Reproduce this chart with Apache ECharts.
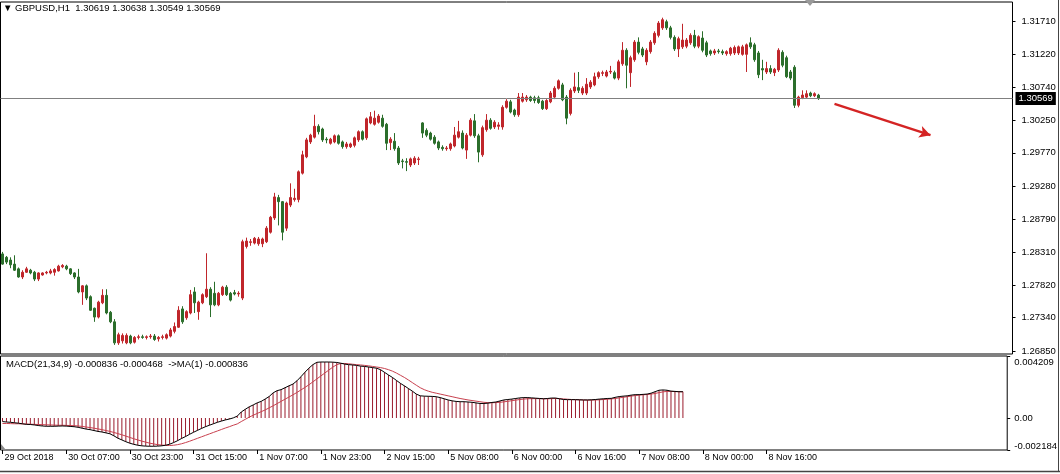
<!DOCTYPE html>
<html><head><meta charset="utf-8">
<script src="https://cdn.jsdelivr.net/npm/echarts@6/dist/echarts.min.js"></script>
<style>html,body{margin:0;padding:0;background:#fff}#c{width:1060px;height:474px}</style>
</head><body><div id="c"></div><script>
const symbolName = 'GBPUSD,H1';
// [open, high, low, close] per H1 bar, first bar 29 Oct 2018 15:00
const candles = [
[1.2828,1.2831,1.2812,1.2813],[1.2823,1.2825,1.2813,1.2816],[1.2819,1.2823,1.2807,1.2812],[1.2813,1.2826,1.2803,1.2804],
[1.2806,1.2808,1.2793,1.2794],[1.2794,1.2804,1.2791,1.2801],[1.2801,1.2809,1.2800,1.2806],[1.2804,1.2806,1.2798,1.2800],
[1.2801,1.2803,1.2788,1.2791],[1.2791,1.2801,1.2788,1.2800],[1.2797,1.2801,1.2796,1.2800],[1.2800,1.2803,1.2798,1.2801],
[1.2800,1.2806,1.2798,1.2803],[1.2801,1.2807,1.2796,1.2805],[1.2803,1.2812,1.2802,1.2810],[1.2809,1.2813,1.2807,1.2811],
[1.2810,1.2812,1.2804,1.2806],[1.2806,1.2807,1.2797,1.2799],[1.2800,1.2801,1.2791,1.2794],[1.2794,1.2806,1.2770,1.2772],
[1.2772,1.2782,1.2753,1.2781],[1.2781,1.2783,1.2760,1.2763],[1.2765,1.2767,1.2744,1.2745],[1.2748,1.2749,1.2728,1.2735],
[1.2735,1.2759,1.2733,1.2757],[1.2756,1.2776,1.2754,1.2767],[1.2767,1.2776,1.2739,1.2741],[1.2742,1.2744,1.2726,1.2728],
[1.2728,1.2732,1.2694,1.2697],[1.2697,1.2712,1.2694,1.2709],[1.2700,1.2711,1.2696,1.2708],[1.2697,1.2711,1.2695,1.2708],
[1.2707,1.2709,1.2695,1.2697],[1.2698,1.2707,1.2696,1.2705],[1.2705,1.2709,1.2702,1.2706],[1.2706,1.2709,1.2703,1.2705],
[1.2705,1.2708,1.2702,1.2706],[1.2706,1.2710,1.2703,1.2707],[1.2707,1.2710,1.2700,1.2702],[1.2703,1.2707,1.2699,1.2705],
[1.2705,1.2709,1.2702,1.2706],[1.2704,1.2711,1.2702,1.2709],[1.2707,1.2719,1.2705,1.2716],[1.2714,1.2727,1.2711,1.2721],
[1.2720,1.2751,1.2719,1.2745],[1.2747,1.2751,1.2725,1.2728],[1.2734,1.2745,1.2731,1.2743],[1.2741,1.2775,1.2739,1.2768],
[1.2772,1.2779,1.2741,1.2756],[1.2743,1.2759,1.2731,1.2757],[1.2756,1.2770,1.2754,1.2768],[1.2765,1.2829,1.2763,1.2776],
[1.2776,1.2779,1.2735,1.2753],[1.2770,1.2787,1.2751,1.2753],[1.2753,1.2772,1.2751,1.2770],[1.2768,1.2781,1.2766,1.2779],
[1.2779,1.2782,1.2766,1.2768],[1.2770,1.2772,1.2758,1.2760],[1.2771,1.2775,1.2767,1.2769],[1.2769,1.2773,1.2765,1.2770],
[1.2763,1.2849,1.2760,1.2846],[1.2839,1.2852,1.2836,1.2847],[1.2845,1.2850,1.2840,1.2846],[1.2844,1.2853,1.2842,1.2851],
[1.2843,1.2853,1.2840,1.2850],[1.2843,1.2852,1.2838,1.2850],[1.2846,1.2869,1.2844,1.2866],[1.2860,1.2884,1.2858,1.2882],
[1.2881,1.2918,1.2878,1.2912],[1.2911,1.2915,1.2870,1.2905],[1.2905,1.2906,1.2848,1.2860],[1.2866,1.2905,1.2862,1.2903],
[1.2900,1.2932,1.2897,1.2911],[1.2908,1.2924,1.2905,1.2910],[1.2908,1.2951,1.2904,1.2949],[1.2947,1.2980,1.2945,1.2974],
[1.2971,1.2999,1.2969,1.2996],[1.2993,1.3005,1.2990,1.3003],[1.3000,1.3033,1.2998,1.3016],[1.3016,1.3019,1.3004,1.3008],
[1.3012,1.3014,1.2993,1.2996],[1.2997,1.3000,1.2991,1.2996],[1.2991,1.2999,1.2989,1.2997],[1.2993,1.3004,1.2991,1.3002],
[1.3002,1.3004,1.2989,1.2991],[1.2993,1.2995,1.2983,1.2986],[1.2986,1.2993,1.2983,1.2990],[1.2986,1.2992,1.2984,1.2990],
[1.2988,1.3001,1.2985,1.2999],[1.2996,1.3010,1.2993,1.3008],[1.3008,1.3010,1.2995,1.2997],[1.2999,1.3029,1.2996,1.3027],
[1.3021,1.3037,1.3019,1.3030],[1.3019,1.3039,1.3017,1.3028],[1.3022,1.3034,1.3020,1.3031],[1.3028,1.3033,1.3014,1.3016],
[1.3019,1.3021,1.2981,1.2991],[1.2992,1.3000,1.2981,1.2997],[1.2994,1.3006,1.2980,1.2983],[1.2984,1.2987,1.2959,1.2962],
[1.2965,1.2968,1.2954,1.2964],[1.2964,1.2969,1.2950,1.2963],[1.2959,1.2970,1.2956,1.2968],[1.2962,1.2972,1.2959,1.2969],
[1.2967,1.2971,1.2959,1.2968],[1.3021,1.3022,1.2999,1.3006],[1.3010,1.3013,1.3000,1.3003],[1.3006,1.3008,1.2995,1.2997],
[1.3000,1.3003,1.2989,1.2991],[1.2993,1.2995,1.2981,1.2984],[1.2985,1.2988,1.2980,1.2983],[1.2983,1.2987,1.2980,1.2984],
[1.2983,1.2992,1.2980,1.2990],[1.2987,1.3015,1.2985,1.3003],[1.3000,1.3024,1.2998,1.3008],[1.3006,1.3010,1.2982,1.2984],
[1.2981,1.3006,1.2968,1.3003],[1.3003,1.3028,1.3001,1.3025],[1.3024,1.3034,1.2999,1.3002],[1.3002,1.3005,1.2963,1.2978],
[1.2974,1.3017,1.2971,1.3014],[1.3011,1.3034,1.3008,1.3025],[1.3025,1.3028,1.3011,1.3013],[1.3015,1.3025,1.3012,1.3022],
[1.3016,1.3022,1.3011,1.3018],[1.3015,1.3047,1.3011,1.3044],[1.3044,1.3056,1.3042,1.3053],[1.3052,1.3055,1.3035,1.3037],
[1.3040,1.3042,1.3030,1.3033],[1.3033,1.3065,1.3030,1.3059],[1.3053,1.3065,1.3051,1.3059],[1.3055,1.3062,1.3052,1.3059],
[1.3059,1.3061,1.3052,1.3054],[1.3058,1.3061,1.3050,1.3054],[1.3058,1.3061,1.3049,1.3051],[1.3053,1.3055,1.3040,1.3042],
[1.3042,1.3056,1.3040,1.3054],[1.3052,1.3068,1.3050,1.3065],[1.3059,1.3075,1.3056,1.3072],[1.3072,1.3085,1.3070,1.3083],
[1.3077,1.3080,1.3053,1.3055],[1.3059,1.3062,1.3019,1.3028],[1.3035,1.3072,1.3032,1.3069],[1.3068,1.3095,1.3065,1.3074],
[1.3073,1.3096,1.3065,1.3069],[1.3065,1.3075,1.3062,1.3072],[1.3065,1.3087,1.3062,1.3078],[1.3074,1.3084,1.3071,1.3081],
[1.3077,1.3095,1.3075,1.3089],[1.3089,1.3097,1.3086,1.3095],[1.3094,1.3098,1.3090,1.3095],[1.3090,1.3099,1.3088,1.3096],
[1.3096,1.3105,1.3093,1.3097],[1.3095,1.3098,1.3085,1.3087],[1.3087,1.3114,1.3084,1.3111],[1.3108,1.3140,1.3105,1.3128],
[1.3128,1.3131,1.3072,1.3106],[1.3095,1.3120,1.3074,1.3117],[1.3114,1.3143,1.3111,1.3140],[1.3140,1.3147,1.3122,1.3125],
[1.3130,1.3133,1.3118,1.3121],[1.3111,1.3131,1.3106,1.3128],[1.3126,1.3143,1.3123,1.3140],[1.3139,1.3156,1.3136,1.3153],
[1.3150,1.3171,1.3147,1.3168],[1.3161,1.3176,1.3158,1.3173],[1.3170,1.3173,1.3158,1.3161],[1.3161,1.3164,1.3144,1.3147],
[1.3147,1.3150,1.3127,1.3130],[1.3130,1.3148,1.3118,1.3145],[1.3133,1.3167,1.3130,1.3143],[1.3134,1.3146,1.3131,1.3143],
[1.3139,1.3153,1.3136,1.3150],[1.3150,1.3158,1.3131,1.3134],[1.3134,1.3150,1.3131,1.3148],[1.3146,1.3156,1.3125,1.3128],
[1.3139,1.3142,1.3118,1.3121],[1.3127,1.3129,1.3120,1.3123],[1.3124,1.3130,1.3121,1.3127],[1.3127,1.3130,1.3123,1.3126],
[1.3126,1.3129,1.3121,1.3124],[1.3123,1.3128,1.3120,1.3126],[1.3123,1.3133,1.3120,1.3131],[1.3124,1.3135,1.3121,1.3132],
[1.3124,1.3135,1.3121,1.3133],[1.3122,1.3136,1.3120,1.3133],[1.3122,1.3138,1.3096,1.3136],[1.3139,1.3147,1.3130,1.3133],
[1.3136,1.3139,1.3111,1.3114],[1.3124,1.3127,1.3087,1.3092],[1.3101,1.3114,1.3084,1.3099],[1.3096,1.3111,1.3093,1.3101],
[1.3101,1.3106,1.3093,1.3096],[1.3095,1.3102,1.3090,1.3100],[1.3099,1.3131,1.3096,1.3128],[1.3125,1.3128,1.3103,1.3106],
[1.3117,1.3120,1.3087,1.3089],[1.3096,1.3099,1.3084,1.3087],[1.3103,1.3106,1.3043,1.3047],[1.3047,1.3061,1.3044,1.3059],
[1.3058,1.3069,1.3056,1.3062],[1.3059,1.3069,1.3057,1.3064],[1.3065,1.3067,1.3059,1.3061],[1.3061,1.3066,1.3059,1.3064],
[1.30619,1.30638,1.30549,1.30569]
];
const macdMain = [
-0.00025,-0.00028,-0.00030,-0.00033,-0.00036,-0.00040,-0.00044,-0.00045,-0.00048,-0.00052,
-0.00055,-0.00057,-0.00057,-0.00057,-0.00056,-0.00055,-0.00056,-0.00058,-0.00060,-0.00064,
-0.00070,-0.00076,-0.00080,-0.00086,-0.00092,-0.00096,-0.00102,-0.00108,-0.00122,-0.00138,
-0.00150,-0.00162,-0.00172,-0.00180,-0.00186,-0.00190,-0.00192,-0.00193,-0.00193,-0.00192,
-0.00190,-0.00186,-0.00179,-0.00168,-0.00155,-0.00140,-0.00127,-0.00112,-0.00098,-0.00085,
-0.00072,-0.00060,-0.00050,-0.00040,-0.00030,-0.00022,-0.00014,-0.00008,0.00000,0.00012,
0.00040,0.00058,0.00075,0.00088,0.00102,0.00112,0.00128,0.00145,0.00170,0.00185,
0.00192,0.00205,0.00218,0.00230,0.00252,0.00280,0.00310,0.00338,0.00362,0.00378,
0.00380,0.00380,0.00380,0.00379,0.00377,0.00372,0.00366,0.00362,0.00360,0.00357,
0.00352,0.00350,0.00346,0.00342,0.00338,0.00328,0.00310,0.00292,0.00275,0.00255,
0.00235,0.00218,0.00200,0.00182,0.00162,0.00150,0.00148,0.00147,0.00146,0.00144,
0.00138,0.00130,0.00122,0.00116,0.00112,0.00110,0.00110,0.00108,0.00106,0.00102,
0.00098,0.00098,0.00100,0.00105,0.00108,0.00115,0.00122,0.00125,0.00128,0.00132,
0.00136,0.00138,0.00138,0.00136,0.00134,0.00132,0.00130,0.00132,0.00135,0.00135,
0.00130,0.00125,0.00124,0.00124,0.00124,0.00123,0.00122,0.00122,0.00123,0.00125,
0.00128,0.00130,0.00132,0.00133,0.00140,0.00145,0.00148,0.00150,0.00155,0.00158,
0.00158,0.00160,0.00162,0.00168,0.00178,0.00188,0.00190,0.00188,0.00182,0.00180,
0.00178,0.00178
];
const macdSignal = [
-0.00038,-0.00038,-0.00039,-0.00040,-0.00040,-0.00041,-0.00042,-0.00043,-0.00044,-0.00045,
-0.00046,-0.00047,-0.00048,-0.00049,-0.00050,-0.00050,-0.00051,-0.00052,-0.00053,-0.00055,
-0.00058,-0.00062,-0.00066,-0.00070,-0.00075,-0.00080,-0.00086,-0.00092,-0.00099,-0.00107,
-0.00115,-0.00124,-0.00133,-0.00142,-0.00150,-0.00158,-0.00165,-0.00172,-0.00177,-0.00182,
-0.00185,-0.00187,-0.00188,-0.00186,-0.00182,-0.00176,-0.00168,-0.00159,-0.00149,-0.00139,
-0.00129,-0.00119,-0.00109,-0.00099,-0.00089,-0.00079,-0.00069,-0.00060,-0.00050,-0.00041,
-0.00025,-0.00010,0.00005,0.00018,0.00030,0.00042,0.00054,0.00068,0.00082,0.00097,
0.00112,0.00127,0.00142,0.00157,0.00173,0.00190,0.00207,0.00225,0.00245,0.00265,
0.00285,0.00305,0.00325,0.00345,0.00362,0.00370,0.00370,0.00368,0.00365,0.00362,
0.00360,0.00357,0.00354,0.00350,0.00346,0.00342,0.00336,0.00328,0.00318,0.00305,
0.00290,0.00275,0.00258,0.00240,0.00222,0.00205,0.00192,0.00182,0.00174,0.00168,
0.00162,0.00156,0.00150,0.00144,0.00138,0.00132,0.00127,0.00122,0.00118,0.00114,
0.00110,0.00106,0.00104,0.00103,0.00104,0.00106,0.00109,0.00113,0.00117,0.00121,
0.00125,0.00128,0.00130,0.00131,0.00131,0.00131,0.00130,0.00130,0.00131,0.00132,
0.00131,0.00129,0.00127,0.00125,0.00124,0.00123,0.00122,0.00121,0.00121,0.00122,
0.00123,0.00125,0.00127,0.00129,0.00132,0.00136,0.00140,0.00144,0.00148,0.00152,
0.00155,0.00157,0.00159,0.00162,0.00166,0.00172,0.00177,0.00180,0.00180,0.00179,
0.00178,0.00177
];
const priceTicks = [1.26850,1.27340,1.27820,1.28310,1.28790,1.29280,1.29770,1.30250,1.30740,1.31220,1.31710];
const macdTicks = [0.004209, 0, -0.002184];
const xTickLabels = ['29 Oct 2018','30 Oct 07:00','30 Oct 23:00','31 Oct 15:00','1 Nov 07:00','1 Nov 23:00','2 Nov 15:00','5 Nov 08:00','6 Nov 00:00','6 Nov 16:00','7 Nov 08:00','8 Nov 00:00','8 Nov 16:00'];
const barsPerLabel = 16;
const totalSlots = 253;
const currentPrice = 1.30569;
const macdLabel = 'MACD(21,34,9) -0.000836 -0.000468  ->MA(1) -0.000836';
const arrowPath = [[208, 1.3049], [232, 1.3003]];

const FONT = 'Liberation Sans';
const FS = 9.5;
const RED = '#c0262b', GREEN = '#2b6e2b';
const cats = Array.from({length: totalSlots}, (_, i) => String(i));
const last = candles[candles.length - 1];
const showTick = (idx) => idx % barsPerLabel === 0 && idx / barsPerLabel < xTickLabels.length;

const chart = echarts.init(document.getElementById('c'), null, {renderer: 'canvas'});
chart.setOption({
  animation: false,
  backgroundColor: '#fff',
  title: [
    {text: '\u25BC ' + symbolName + '  ' + [last[0], last[1], last[2], last[3]].map(v => v.toFixed(5)).join(' '),
     left: 3, top: 3, padding: 0, textStyle: {fontSize: FS, fontWeight: 'normal', color: '#000', fontFamily: FONT}},
    {text: macdLabel, left: 6, top: 359, padding: 0,
     textStyle: {fontSize: FS, fontWeight: 'normal', color: '#000', fontFamily: FONT}}
  ],
  grid: [
    {left: 0.5, top: 2, width: 1012, height: 352, show: true, borderColor: '#000', borderWidth: 1, backgroundColor: '#fff'},
    {left: 0.5, top: 356, width: 1012, height: 94, show: true, borderColor: '#000', borderWidth: 1, backgroundColor: '#fff'}
  ],
  xAxis: [
    {type: 'category', gridIndex: 0, data: cats, boundaryGap: true,
     axisLine: {show: false, onZero: false}, axisTick: {show: false}, axisLabel: {show: false}, splitLine: {show: false}},
    {type: 'category', gridIndex: 1, data: cats, boundaryGap: true, position: 'bottom',
     axisLine: {show: false, onZero: false},
     axisTick: {show: true, interval: showTick, alignWithLabel: true, length: 4, lineStyle: {color: '#000'}},
     axisLabel: {show: true, interval: showTick, align: 'left', margin: 3, padding: [0, 0, 0, 2],
       color: '#000', fontSize: 9, fontFamily: FONT,
       formatter: (v) => xTickLabels[Number(v) / barsPerLabel]},
     splitLine: {show: false}}
  ],
  yAxis: [
    {type: 'value', gridIndex: 0, position: 'right', min: 1.26806, max: 1.31991, scale: true,
     axisLine: {show: false},
     axisTick: {show: true, customValues: priceTicks, length: 3, lineStyle: {color: '#000'}},
     axisLabel: {show: true, customValues: priceTicks, margin: 9, color: '#000', fontSize: FS, fontFamily: FONT,
       formatter: (v) => v.toFixed(5)},
     splitLine: {show: false}},
    {type: 'value', gridIndex: 1, position: 'right', min: -0.002184, max: 0.004209,
     axisLine: {show: false},
     axisTick: {show: true, customValues: macdTicks, length: 3, lineStyle: {color: '#000'}},
     axisLabel: {show: true, customValues: macdTicks, margin: 7, color: '#000', fontSize: FS, fontFamily: FONT,
       formatter: (v) => v === 0 ? '{m|0.00}' : (v > 0 ? '{t|' + v.toFixed(6) + '}' : '{b|' + v.toFixed(6) + '}'),
       rich: {t: {padding: [12, 0, 0, 0], fontSize: FS, fontFamily: FONT}, m: {fontSize: FS, fontFamily: FONT}, b: {padding: [0, 0, 8, 0], fontSize: FS, fontFamily: FONT}}},
     splitLine: {show: false}}
  ],
  series: [
    {type: 'candlestick', xAxisIndex: 0, yAxisIndex: 0, barWidth: 3,
     data: candles.map(([o, h, l, c]) => [o, c, l, h]),
     itemStyle: {color: RED, color0: GREEN, borderColor: RED, borderColor0: GREEN, borderWidth: 1},
     markLine: {
       silent: true, animation: false, precision: 5, symbol: ['none', 'none'],
       data: [
         {yAxis: currentPrice,
          lineStyle: {color: '#808080', width: 1, type: 'solid'},
          label: {show: true, position: 'end', distance: 3, formatter: currentPrice.toFixed(5),
            backgroundColor: '#000', color: '#fff', padding: [2, 3, 1, 3], fontSize: FS, fontFamily: FONT}},
         [{coord: arrowPath[0], symbol: 'none', lineStyle: {color: '#d42424', width: 2.5, type: 'solid'}, label: {show: false}},
          {coord: arrowPath[1], symbol: 'arrow', symbolSize: [9, 11]}]
       ]
     }},
    {type: 'bar', xAxisIndex: 1, yAxisIndex: 1, data: macdMain, barWidth: 1,
     itemStyle: {color: '#9a1b2c'}, silent: true},
    {type: 'line', xAxisIndex: 1, yAxisIndex: 1, data: macdSignal, symbol: 'none',
     lineStyle: {color: '#c8404e', width: 1}, silent: true},
    {type: 'line', xAxisIndex: 1, yAxisIndex: 1, data: macdMain, symbol: 'none',
     lineStyle: {color: '#000', width: 1}, silent: true}
  ],
  graphic: [
    {type: 'polygon', silent: true, shape: {points: [[805, 0], [815, 0], [810, 6]]}, style: {fill: '#9a9a9a'}},
    {type: 'polygon', silent: true, shape: {points: [[1, 444], [1, 450], [6, 450]]}, style: {fill: '#8a8a8a'}},
    {type: 'line', silent: true, shape: {x1: 1058.5, y1: 0, x2: 1058.5, y2: 472}, style: {stroke: '#444', lineWidth: 1}},
    {type: 'line', silent: true, shape: {x1: 0, y1: 471.5, x2: 1060, y2: 471.5}, style: {stroke: '#444', lineWidth: 1.5}}
  ]
});
</script></body></html>
